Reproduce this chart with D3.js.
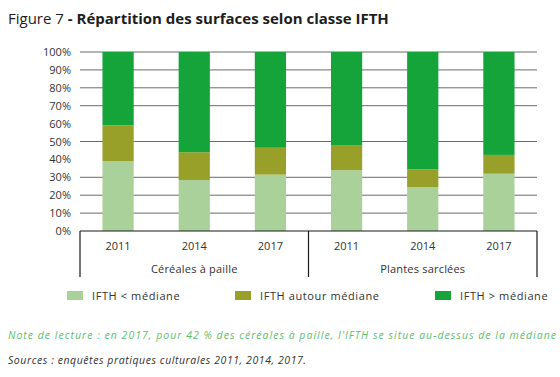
<!DOCTYPE html>
<html>
<head>
<meta charset="utf-8">
<script src="https://cdn.jsdelivr.net/npm/d3@7"></script>
<style>
  body { margin: 0; background: #fff; }
  text { font-family: "Open Sans", Lato, sans-serif; }
</style>
</head>
<body>
<div id="chart"></div>
<script>
// Data
const groups = ["Céréales à paille", "Plantes sarclées"];
const years = ["2011", "2014", "2017"];
const seriesNames = ["IFTH < médiane", "IFTH autour médiane", "IFTH > médiane"];
const belowMedian = [39, 28.5, 31.5, 34, 24.5, 32];
const aroundMedian = [20, 15.5, 15, 14, 10, 10.5];
const aboveMedian = [41, 56, 53.5, 52, 65.5, 57.5];
const yTicks = [0, 10, 20, 30, 40, 50, 60, 70, 80, 90, 100];
const gridTicks = [10, 20, 30, 50, 70, 80, 90, 100];
const colors = ["#abd19b", "#98a02a", "#15a43a"];

const width = 560, height = 377;
const margin = {top: 52, left: 80, right: 23, bottom: 146};
const plotW = width - margin.left - margin.right;
const plotH = height - margin.top - margin.bottom;

const svg = d3.select("#chart").append("svg")
    .attr("width", width)
    .attr("height", height);

// Title
const title = svg.append("text")
    .attr("x", 8)
    .attr("y", 24)
    .style("font-size", "15px")
    .attr("fill", "#1e1e1e");
title.append("tspan").text("Figure 7 ");
title.append("tspan").style("font-weight", "bold").text("- Répartition des surfaces selon classe IFTH");

const g = svg.append("g")
    .attr("transform", "translate(" + margin.left + "," + margin.top + ")");

// Build table
const keys = [];
groups.forEach(function (gr) {
    years.forEach(function (y) { keys.push(gr + "|" + y); });
});
const table = keys.map(function (k, i) {
    return {key: k, s0: belowMedian[i], s1: aroundMedian[i], s2: aboveMedian[i]};
});

const x = d3.scaleBand()
    .domain(keys)
    .range([0, plotW])
    .paddingInner(0.59)
    .paddingOuter(0.295);
const y = d3.scaleLinear()
    .domain([0, 100])
    .range([plotH, 0]);

// Gridlines
g.selectAll(".grid")
    .data(gridTicks)
    .enter().append("line")
    .attr("class", "grid")
    .attr("x1", 0)
    .attr("x2", plotW)
    .attr("y1", d => y(d))
    .attr("y2", d => y(d))
    .attr("stroke", "#6b6b6b")
    .attr("stroke-width", 1);

// Y axis labels
const yAxis = g.append("g")
    .call(d3.axisLeft(y).tickValues(yTicks).tickFormat(d => d + "%").tickSize(0).tickPadding(9));
yAxis.select(".domain").remove();
yAxis.selectAll("text")
    .style("font-size", "11px")
    .style("font-family", "'Open Sans', sans-serif")
    .attr("fill", "#333");

// Stacked bars
const stack = d3.stack().keys(["s0", "s1", "s2"]);
const layers = stack(table);
g.selectAll(".layer")
    .data(layers)
    .enter().append("g")
    .attr("class", "layer")
    .attr("fill", (d, i) => colors[i])
    .selectAll("rect")
    .data(d => d)
    .enter().append("rect")
    .attr("x", d => x(d.data.key))
    .attr("width", x.bandwidth())
    .attr("y", d => y(d[1]))
    .attr("height", d => y(d[0]) - y(d[1]));

// Category axis
const axisG = g.append("g").attr("transform", "translate(0," + plotH + ")");
axisG.append("line")
    .attr("x1", 0).attr("x2", plotW)
    .attr("y1", 0).attr("y2", 0)
    .attr("stroke", "#1a1a1a").attr("stroke-width", 1.2);
const groupW = plotW / groups.length;
d3.range(groups.length + 1).forEach(function (i) {
    axisG.append("line")
        .attr("x1", i * groupW).attr("x2", i * groupW)
        .attr("y1", 0).attr("y2", 46)
        .attr("stroke", "#1a1a1a").attr("stroke-width", 1.2);
});
axisG.selectAll(".year")
    .data(table)
    .enter().append("text")
    .attr("class", "year")
    .attr("x", d => x(d.key) + x.bandwidth() / 2)
    .attr("y", 19)
    .attr("text-anchor", "middle")
    .style("font-size", "11px")
    .attr("fill", "#333")
    .text(d => d.key.split("|")[1]);
axisG.selectAll(".group")
    .data(groups)
    .enter().append("text")
    .attr("class", "group")
    .attr("x", (d, i) => i * groupW + groupW / 2)
    .attr("y", 42)
    .attr("text-anchor", "middle")
    .style("font-size", "11px")
    .style("letter-spacing", "0.2px")
    .attr("fill", "#333")
    .text(d => d);

// Legend
const legendX = [67, 235, 435];
const legend = svg.selectAll(".legend")
    .data(seriesNames)
    .enter().append("g")
    .attr("class", "legend")
    .attr("transform", (d, i) => "translate(" + legendX[i] + ",291)");
legend.append("rect")
    .attr("width", 16).attr("height", 9)
    .attr("fill", (d, i) => colors[i]);
legend.append("text")
    .attr("x", 25).attr("y", 8.5)
    .style("font-size", "11px")
    .style("letter-spacing", "0.6px")
    .attr("fill", "#333")
    .text(d => d);

// Notes
svg.append("text")
    .attr("x", 8).attr("y", 339)
    .style("font-size", "10.5px")
    .style("font-style", "italic")
    .attr("fill", "#5cc06c")
    .attr("textLength", 548)
    .text("Note de lecture : en 2017, pour 42 % des céréales à paille, l'IFTH se situe au-dessus de la médiane");
svg.append("text")
    .attr("x", 8).attr("y", 364)
    .style("font-size", "10.5px")
    .style("font-style", "italic")
    .attr("fill", "#333")
    .attr("textLength", 298)
    .text("Sources : enquêtes pratiques culturales 2011, 2014, 2017.");
</script>
</body>
</html>
